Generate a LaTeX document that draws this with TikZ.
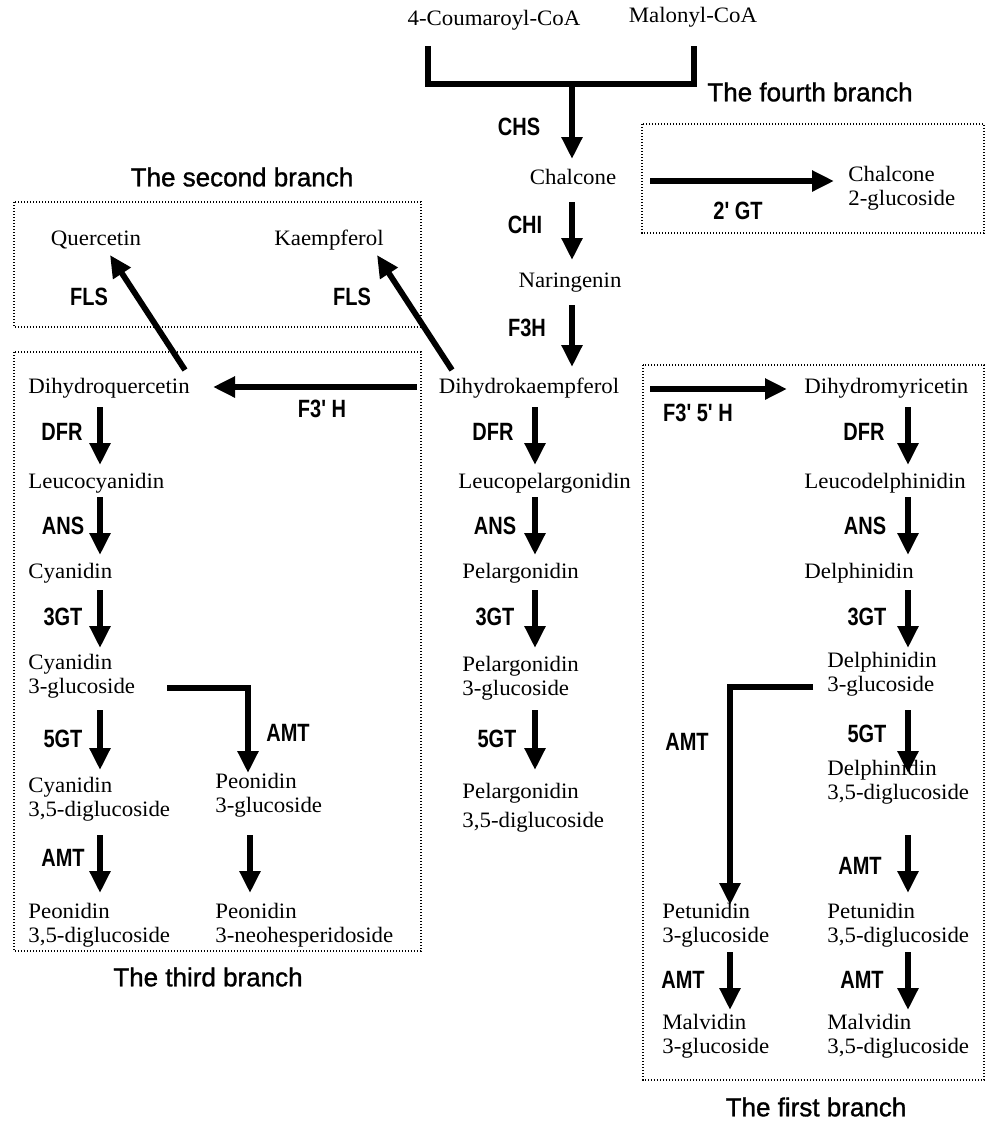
\documentclass[tikz,border=0pt]{standalone}
\usepackage{fontspec}
\setmainfont{Liberation Serif}[FakeStretch=1.04]
\newfontfamily\labfont{Liberation Sans}[FakeStretch=0.8]
\newfontfamily\titfont{Liberation Sans}[FakeBold=1.2]
\usetikzlibrary{arrows.meta}
\begin{document}
\begin{tikzpicture}[x=0.5pt,y=-0.5pt,
  tx/.style={inner sep=0pt, font=\fontsize{11}{12.2}\selectfont, align=left},
  lab/.style={inner sep=0pt, font=\labfont\bfseries\fontsize{12.5}{13}\selectfont},
  tit/.style={inner sep=0pt, font=\titfont\fontsize{13}{14}\selectfont},
  arr/.style={line width=2.9pt, -{Triangle[width=10pt,length=11pt]}},
  bar/.style={line width=3.2pt},
  dbox/.style={line width=0.8pt, dash pattern=on 0.6pt off 0.9pt}]
\useasboundingbox (0,0) rectangle (985,1121);
% boxes
\draw[dbox] (642,124) rectangle (984,233);
\draw[dbox] (14,202) rectangle (421,327);
\draw[dbox] (14,352) rectangle (421,951);
\draw[dbox] (643,365) rectangle (984,1080);
% titles
\node[tit] (t4) at (810,92) {The fourth branch};
\node[tit] (t2) at (242,177) {The second branch};
\node[tit] (t3) at (208,977) {The third branch};
\node[tit] (t1) at (816,1107) {The first branch};
% compounds
\node[tx] (cou) at (494,20) {4-Coumaroyl-CoA};
\node[tx] (mal) at (693,17) {Malonyl-CoA};
\node[tx] (chal) at (573,177) {Chalcone};
\node[tx,anchor=west] (chg) at (848,188) {Chalcone\\2-glucoside};
\node[tx] (nar) at (570,283) {Naringenin};
\node[tx] (dhk) at (529,388) {Dihydrokaempferol};
\node[tx] (que) at (96,240) {Quercetin};
\node[tx] (kae) at (329,240) {Kaempferol};
\node[tx,anchor=west] (dhq) at (28,388) {Dihydroquercetin};
\node[tx,anchor=west] (dhm) at (804,388) {Dihydromyricetin};
\node[tx,anchor=west] (lcy) at (28,483) {Leucocyanidin};
\node[tx,anchor=west] (lpe) at (458,483) {Leucopelargonidin};
\node[tx,anchor=west] (lde) at (804,483) {Leucodelphinidin};
\node[tx,anchor=west] (cya) at (28,573) {Cyanidin};
\node[tx,anchor=west] (pel) at (462,573) {Pelargonidin};
\node[tx,anchor=west] (del) at (804,573) {Delphinidin};
\node[tx,anchor=west] (cy3) at (28,676) {Cyanidin\\3-glucoside};
\node[tx,anchor=west] (pe3) at (462,678) {Pelargonidin\\3-glucoside};
\node[tx,anchor=west] (de3) at (827,674) {Delphinidin\\3-glucoside};
\node[tx,anchor=west] (cy35) at (28,799) {Cyanidin\\3,5-diglucoside};
\node[tx,anchor=west] (po3) at (215,795) {Peonidin\\3-glucoside};
\node[tx,anchor=west] (pe35) at (462,808) {Pelargonidin\\[2.5pt]3,5-diglucoside};
\node[tx,anchor=west] (de35) at (827,782) {Delphinidin\\3,5-diglucoside};
\node[tx,anchor=west] (po35) at (28,925) {Peonidin\\3,5-diglucoside};
\node[tx,anchor=west] (pon) at (215,925) {Peonidin\\3-neohesperidoside};
\node[tx,anchor=west] (pt3) at (662,925) {Petunidin\\3-glucoside};
\node[tx,anchor=west] (pt35) at (827,925) {Petunidin\\3,5-diglucoside};
\node[tx,anchor=west] (mv3) at (662,1036) {Malvidin\\3-glucoside};
\node[tx,anchor=west] (mv35) at (827,1036) {Malvidin\\3,5-diglucoside};
% enzyme labels
\node[lab] (lchs) at (519,127) {CHS};
\node[lab] (lchi) at (525,225) {CHI};
\node[lab] (lf3h) at (527,328) {F3H};
\node[lab] (lgt2) at (738,211) {2' GT};
\node[lab] (lfls1) at (89,297) {FLS};
\node[lab] (lfls2) at (352,297) {FLS};
\node[lab] (lf3p) at (322,409) {F3' H};
\node[lab] (lf35) at (698,413) {F3' 5' H};
\node[lab] (ldfr1) at (62,432) {DFR};
\node[lab] (lans1) at (63,526) {ANS};
\node[lab] (l3gt1) at (63,617) {3GT};
\node[lab] (l5gt1) at (63,739) {5GT};
\node[lab] (lamt1) at (63,858) {AMT};
\node[lab] (lamt2) at (288,733) {AMT};
\node[lab] (ldfr2) at (493,432) {DFR};
\node[lab] (lans2) at (495,526) {ANS};
\node[lab] (l3gt2) at (495,617) {3GT};
\node[lab] (l5gt2) at (497,739) {5GT};
\node[lab] (ldfr3) at (864,432) {DFR};
\node[lab] (lans3) at (865,526) {ANS};
\node[lab] (l3gt3) at (867,617) {3GT};
\node[lab] (l5gt3) at (867,734) {5GT};
\node[lab] (lamt3) at (860,866) {AMT};
\node[lab] (lamt4) at (862,980) {AMT};
\node[lab] (lamt5) at (687,742) {AMT};
\node[lab] (lamt6) at (683,980) {AMT};
% connectors
\draw[bar, line join=miter] (428,46) -- (428,84) -- (694,84) -- (694,46);
\draw[arr] (572,84) -- (572,159);
\draw[arr] (572,202) -- (572,260);
\draw[arr] (572,305) -- (572,367);
\draw[arr] (650,181) -- (834,181);
\draw[arr] (185,370) -- (110,255);
\draw[arr] (452,370) -- (377,255);
\draw[arr] (417,387) -- (213,387);
\draw[arr] (650,389) -- (787,389);
\foreach \a/\b in {407/465,497/555,590/648,710/770,835/893}
  \draw[arr] (100,\a) -- (100,\b);
\foreach \a/\b in {407/465,497/555,590/648,710/770}
  \draw[arr] (535,\a) -- (535,\b);
\foreach \a/\b in {407/465,497/555,590/648,710/773,835/893,952/1010}
  \draw[arr] (908,\a) -- (908,\b);
\draw[arr, line join=miter] (167,688) -- (248,688) -- (248,773);
\draw[arr] (250,835) -- (250,893);
\draw[arr, line join=miter] (813,687) -- (730,687) -- (730,905);
\draw[arr] (730,952) -- (730,1010);
\end{tikzpicture}
\end{document}
